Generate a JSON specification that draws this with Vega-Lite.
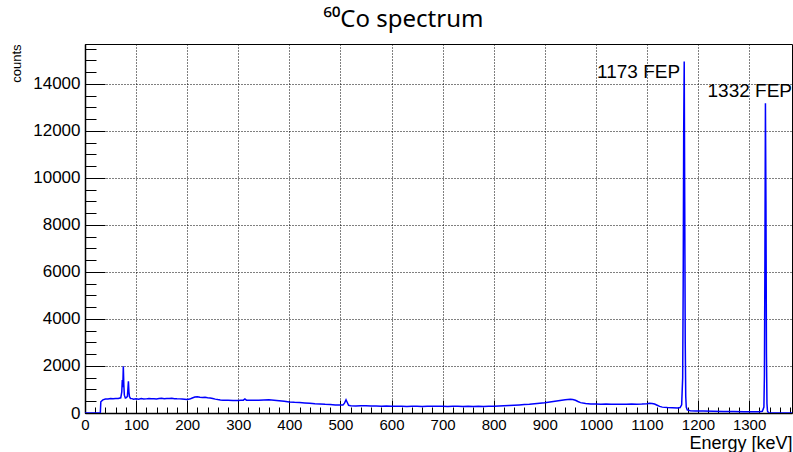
{
  "$schema": "https://vega.github.io/schema/vega-lite/v6.json",
  "autosize": "none",
  "width": 707,
  "height": 369,
  "padding": {"left": 85, "top": 44, "right": 1, "bottom": 39},
  "background": "white",
  "title": {"text": "⁶⁰Co spectrum", "font": "Noto Sans", "fontSize": 24, "fontWeight": "normal", "color": "black", "anchor": "middle", "dx": -35, "baseline": "alphabetic", "offset": -11},
  "config": {"view": {"stroke": "black", "strokeWidth": 1}},
  "encoding": {
    "x": {"field": "energy", "type": "quantitative",
      "scale": {"domain": [0, 1384], "nice": false, "zero": false},
      "axis": {
        "values": [0,20,40,60,80,100,120,140,160,180,200,220,240,260,280,300,320,340,360,380,400,420,440,460,480,500,520,540,560,580,600,620,640,660,680,700,720,740,760,780,800,820,840,860,880,900,920,940,960,980,1000,1020,1040,1060,1080,1100,1120,1140,1160,1180,1200,1220,1240,1260,1280,1300,1320,1340,1360,1380],
        "labelExpr": "datum.value % 100 === 0 ? datum.label : ''",
        "format": "d",
        "title": "Energy [keV]",
        "titleFont": "Liberation Sans", "titleFontSize": 18, "titleFontWeight": "normal", "titleColor": "black",
        "titleAnchor": "end", "titleAlign": "right", "titleBaseline": "alphabetic", "titleX": 707, "titleY": 35,
        "labelFont": "Liberation Sans", "labelFontSize": 15, "labelColor": "black", "labelPadding": 17, "labelFlush": false, "labelOverlap": false,
        "domainColor": "black", "domainWidth": 1.5,
        "tickColor": "black", "tickWidth": 1,
        "tickSize": {"condition": {"test": "datum.value % 100 === 0", "value": -13}, "value": -6},
        "grid": true, "gridColor": "black", "gridDash": [1, 2], "gridWidth": 1,
        "gridOpacity": {"condition": {"test": "datum.value % 100 === 0", "value": 1}, "value": 0}
      }
    },
    "y": {"field": "counts", "type": "quantitative",
      "scale": {"domain": [0, 15700], "nice": false},
      "axis": {
        "values": [0,500,1000,1500,2000,2500,3000,3500,4000,4500,5000,5500,6000,6500,7000,7500,8000,8500,9000,9500,10000,10500,11000,11500,12000,12500,13000,13500,14000,14500,15000,15500],
        "labelExpr": "datum.value % 2000 === 0 ? datum.label : ''",
        "format": "d",
        "title": "counts",
        "titleFont": "Liberation Sans", "titleFontSize": 13, "titleFontWeight": "normal", "titleColor": "black",
        "titleAngle": -90, "titleAlign": "right", "titleBaseline": "top", "titleX": -75, "titleY": 0,
        "labelFont": "Liberation Sans", "labelFontSize": 17, "labelColor": "black", "labelPadding": 25, "labelFlush": false, "labelOverlap": false,
        "domainColor": "black", "domainWidth": 1.5,
        "tickColor": "black", "tickWidth": 1,
        "tickSize": {"condition": {"test": "datum.value % 2000 === 0", "value": -20}, "value": -11},
        "grid": true, "gridColor": "black", "gridDash": [1, 2], "gridWidth": 1,
        "gridOpacity": {"condition": {"test": "datum.value % 2000 === 0", "value": 1}, "value": 0}
      }
    }
  },
  "layer": [
    {
      "data": {"values": [
        {"energy": 0, "counts": 0}, {"energy": 28, "counts": 0}, {"energy": 30, "counts": 0}, {"energy": 31, "counts": 480},
        {"energy": 35, "counts": 560}, {"energy": 40, "counts": 595}, {"energy": 45, "counts": 600}, {"energy": 50, "counts": 612},
        {"energy": 55, "counts": 603}, {"energy": 60, "counts": 618}, {"energy": 65, "counts": 622}, {"energy": 70, "counts": 645},
        {"energy": 72, "counts": 900}, {"energy": 73, "counts": 1400}, {"energy": 74, "counts": 1100}, {"energy": 75, "counts": 1990},
        {"energy": 76, "counts": 1200}, {"energy": 77, "counts": 760}, {"energy": 79, "counts": 640}, {"energy": 81, "counts": 655},
        {"energy": 83, "counts": 700}, {"energy": 85, "counts": 1350}, {"energy": 86, "counts": 900}, {"energy": 87, "counts": 700},
        {"energy": 89, "counts": 620}, {"energy": 92, "counts": 612}, {"energy": 95, "counts": 588}, {"energy": 100, "counts": 602},
        {"energy": 105, "counts": 590}, {"energy": 110, "counts": 612}, {"energy": 115, "counts": 595}, {"energy": 120, "counts": 601},
        {"energy": 125, "counts": 616}, {"energy": 130, "counts": 604}, {"energy": 135, "counts": 611}, {"energy": 140, "counts": 600},
        {"energy": 145, "counts": 617}, {"energy": 150, "counts": 626}, {"energy": 155, "counts": 609}, {"energy": 160, "counts": 621},
        {"energy": 165, "counts": 614}, {"energy": 170, "counts": 626}, {"energy": 175, "counts": 611}, {"energy": 180, "counts": 604},
        {"energy": 185, "counts": 601}, {"energy": 190, "counts": 594}, {"energy": 195, "counts": 581}, {"energy": 200, "counts": 570},
        {"energy": 205, "counts": 592}, {"energy": 210, "counts": 640}, {"energy": 215, "counts": 682}, {"energy": 220, "counts": 690},
        {"energy": 225, "counts": 671}, {"energy": 230, "counts": 660}, {"energy": 235, "counts": 668}, {"energy": 240, "counts": 650},
        {"energy": 245, "counts": 641}, {"energy": 250, "counts": 619}, {"energy": 255, "counts": 590}, {"energy": 260, "counts": 571},
        {"energy": 265, "counts": 556}, {"energy": 270, "counts": 546}, {"energy": 275, "counts": 540}, {"energy": 280, "counts": 547},
        {"energy": 290, "counts": 534}, {"energy": 300, "counts": 531}, {"energy": 305, "counts": 541}, {"energy": 310, "counts": 545},
        {"energy": 313, "counts": 600}, {"energy": 316, "counts": 546}, {"energy": 320, "counts": 539}, {"energy": 330, "counts": 546},
        {"energy": 340, "counts": 540}, {"energy": 350, "counts": 556}, {"energy": 360, "counts": 560}, {"energy": 370, "counts": 544},
        {"energy": 380, "counts": 521}, {"energy": 390, "counts": 499}, {"energy": 400, "counts": 471}, {"energy": 410, "counts": 455},
        {"energy": 420, "counts": 446}, {"energy": 430, "counts": 429}, {"energy": 440, "counts": 416}, {"energy": 450, "counts": 394},
        {"energy": 460, "counts": 386}, {"energy": 470, "counts": 369}, {"energy": 480, "counts": 361}, {"energy": 490, "counts": 344},
        {"energy": 500, "counts": 336}, {"energy": 505, "counts": 341}, {"energy": 508, "counts": 420}, {"energy": 511, "counts": 560},
        {"energy": 513, "counts": 470}, {"energy": 516, "counts": 330}, {"energy": 520, "counts": 311}, {"energy": 530, "counts": 300},
        {"energy": 540, "counts": 311}, {"energy": 550, "counts": 304}, {"energy": 560, "counts": 299}, {"energy": 570, "counts": 295},
        {"energy": 580, "counts": 289}, {"energy": 590, "counts": 296}, {"energy": 600, "counts": 285}, {"energy": 610, "counts": 291},
        {"energy": 620, "counts": 289}, {"energy": 630, "counts": 280}, {"energy": 640, "counts": 286}, {"energy": 650, "counts": 284},
        {"energy": 660, "counts": 279}, {"energy": 670, "counts": 286}, {"energy": 680, "counts": 290}, {"energy": 690, "counts": 284},
        {"energy": 700, "counts": 291}, {"energy": 710, "counts": 280}, {"energy": 720, "counts": 289}, {"energy": 730, "counts": 286},
        {"energy": 740, "counts": 279}, {"energy": 750, "counts": 285}, {"energy": 760, "counts": 281}, {"energy": 770, "counts": 286},
        {"energy": 780, "counts": 280}, {"energy": 790, "counts": 286}, {"energy": 800, "counts": 290}, {"energy": 810, "counts": 299},
        {"energy": 820, "counts": 311}, {"energy": 830, "counts": 320}, {"energy": 840, "counts": 331}, {"energy": 850, "counts": 344},
        {"energy": 860, "counts": 361}, {"energy": 870, "counts": 374}, {"energy": 880, "counts": 396}, {"energy": 890, "counts": 419},
        {"energy": 900, "counts": 441}, {"energy": 910, "counts": 469}, {"energy": 920, "counts": 501}, {"energy": 930, "counts": 529},
        {"energy": 940, "counts": 561}, {"energy": 950, "counts": 580}, {"energy": 955, "counts": 571}, {"energy": 960, "counts": 540},
        {"energy": 965, "counts": 489}, {"energy": 970, "counts": 441}, {"energy": 980, "counts": 401}, {"energy": 990, "counts": 384},
        {"energy": 1000, "counts": 381}, {"energy": 1010, "counts": 374}, {"energy": 1020, "counts": 380}, {"energy": 1030, "counts": 369},
        {"energy": 1040, "counts": 376}, {"energy": 1050, "counts": 370}, {"energy": 1060, "counts": 374}, {"energy": 1070, "counts": 381},
        {"energy": 1080, "counts": 375}, {"energy": 1090, "counts": 380}, {"energy": 1100, "counts": 394}, {"energy": 1105, "counts": 411},
        {"energy": 1110, "counts": 405}, {"energy": 1115, "counts": 381}, {"energy": 1120, "counts": 330}, {"energy": 1125, "counts": 281},
        {"energy": 1130, "counts": 250}, {"energy": 1140, "counts": 231}, {"energy": 1150, "counts": 221}, {"energy": 1160, "counts": 215},
        {"energy": 1165, "counts": 230}, {"energy": 1168, "counts": 350}, {"energy": 1170, "counts": 1500}, {"energy": 1171, "counts": 5500},
        {"energy": 1172, "counts": 12000}, {"energy": 1173, "counts": 14950}, {"energy": 1174, "counts": 9000}, {"energy": 1175, "counts": 3000},
        {"energy": 1176, "counts": 700}, {"energy": 1177, "counts": 250}, {"energy": 1179, "counts": 130}, {"energy": 1185, "counts": 100},
        {"energy": 1195, "counts": 90}, {"energy": 1210, "counts": 80}, {"energy": 1230, "counts": 70}, {"energy": 1250, "counts": 65},
        {"energy": 1270, "counts": 60}, {"energy": 1290, "counts": 55}, {"energy": 1310, "counts": 50}, {"energy": 1320, "counts": 50},
        {"energy": 1326, "counts": 70}, {"energy": 1329, "counts": 250}, {"energy": 1330, "counts": 1600}, {"energy": 1331, "counts": 6600},
        {"energy": 1332, "counts": 13180}, {"energy": 1333, "counts": 9000}, {"energy": 1334, "counts": 2500}, {"energy": 1335, "counts": 400},
        {"energy": 1336, "counts": 80}, {"energy": 1338, "counts": 10}, {"energy": 1350, "counts": 5}, {"energy": 1384, "counts": 3}
      ]},
      "mark": {"type": "line", "color": "#0000ff", "strokeWidth": 1.5, "clip": true}
    },
    {
      "data": {"values": [
        {"label": "1173 FEP", "energy": 1165, "counts": 14250},
        {"label": "1332 FEP", "energy": 1384, "counts": 13450}
      ]},
      "mark": {"type": "text", "align": "right", "baseline": "alphabetic", "font": "Liberation Sans", "fontSize": 19, "color": "black"},
      "encoding": {"text": {"field": "label"}}
    }
  ]
}
